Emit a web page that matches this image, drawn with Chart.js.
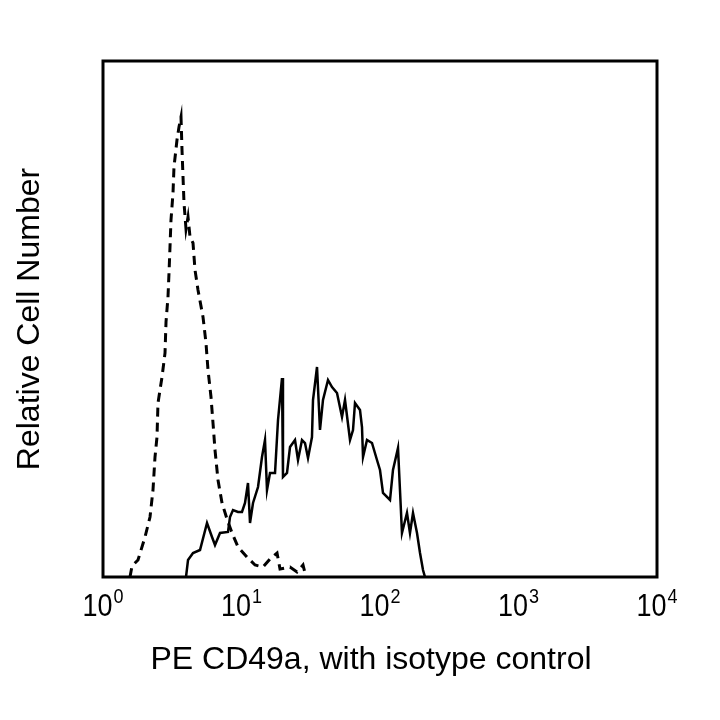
<!DOCTYPE html>
<html>
<head>
  <meta charset="UTF-8">
  <title>PE CD49a histogram</title>
  <script src="https://cdn.jsdelivr.net/npm/chart.js"></script>
  <style>
    body { margin: 0; background: #fff; }
    canvas { display: block; }
  </style>
</head>
<body>
  <canvas id="histChart" width="720" height="720"></canvas>
  <script>
    // isotype control (dashed) - fluorescence intensity / relative count
    const isoX = [1.566, 1.620, 1.789, 2.011, 2.185, 2.296, 2.374, 2.454, 2.495, 2.667,
      2.804, 2.851, 2.946, 2.996, 3.046, 3.097, 3.202, 3.255, 3.421, 3.537,
      3.658, 3.719, 3.845, 3.975, 4.110, 4.249, 4.465, 4.617, 4.852, 5.273,
      5.542, 5.730, 6.023, 6.226, 6.437, 6.766, 7.233, 7.860, 8.542, 9.435,
      10.96, 12.52, 14.30, 16.06, 18.05, 18.97, 22.40, 25.16, 27.80, 29.22];
    const isoY = [0, 11, 17, 40, 60, 87, 120, 140, 174, 200,
      224, 255, 280, 304, 330, 357, 384, 410, 437, 450,
      460, 427, 374, 348, 360, 340, 334, 307, 287, 260,
      234, 207, 180, 154, 127, 97, 74, 58, 44, 30,
      20, 12, 10, 18, 24, 8, 10, 5, 12, 0];

    // PE CD49a stained (solid)
    const cdX = [3.975, 4.110, 4.465, 5.017, 5.636, 6.124, 6.437, 6.996, 7.989, 8.260,
      8.682, 9.435, 10.08, 10.60, 11.14, 11.52, 12.11, 13.16, 14.06, 14.78,
      15.28, 16.06, 17.46, 18.35, 19.61, 19.93, 21.31, 22.40, 24.34, 25.58,
      27.34, 28.74, 30.21, 32.28, 32.83, 35.09, 36.88, 38.76, 42.13, 45.03,
      48.93, 53.17, 55.89, 60.74, 63.84, 65.99, 71.71, 74.13, 75.40, 80.56,
      87.53, 95.12, 100.0, 105.1, 118.1, 124.1, 134.9, 139.4, 144.1, 156.6,
      164.6, 173.1, 185.0, 194.5, 204.4, 211.3];
    const cdY = [0, 17, 24, 27, 54, 40, 32, 44, 45, 60,
      67, 65, 65, 74, 94, 54, 74, 90, 120, 137,
      87, 104, 104, 157, 199, 100, 104, 130, 137, 117,
      137, 134, 119, 140, 177, 210, 147, 177, 197, 190,
      184, 160, 177, 137, 147, 174, 167, 150, 120, 137,
      134, 117, 107, 84, 77, 107, 129, 87, 44, 64,
      44, 64, 44, 24, 7, 0];

    const xTickValues = [1, 10, 100, 1000, 10000];
    const xTickBase = ['10', '10', '10', '10', '10'];
    const xTickExp = ['0', '1', '2', '3', '4'];
    const xTitle = 'PE CD49a, with isotype control';

    const FONT = '"Liberation Sans", Arial, Helvetica, sans-serif';

    const toPoints = (xs, ys) => xs.map((x, i) => ({ x: x, y: ys[i] }));

    // frame, power-of-ten tick labels and x title
    const framePlugin = {
      id: 'frame',
      afterDraw(chart) {
        const ctx = chart.ctx;
        const a = chart.chartArea;
        ctx.save();
        ctx.strokeStyle = '#000';
        ctx.lineWidth = 3;
        ctx.strokeRect(a.left, a.top, a.right - a.left, a.bottom - a.top);

        const xs = chart.scales.x;
        ctx.fillStyle = '#000';
        ctx.textBaseline = 'alphabetic';
        ctx.textAlign = 'left';
        xTickValues.forEach((v, i) => {
          const px = xs.getPixelForValue(v);
          ctx.font = '27px ' + FONT;
          const wBase = ctx.measureText(xTickBase[i]).width;
          ctx.font = '18px ' + FONT;
          const wExp = ctx.measureText(xTickExp[i]).width;
          const start = px - (wBase + wExp + 1) / 2;
          ctx.save();
          ctx.translate(start, 616);
          ctx.scale(1, 1.15);
          ctx.font = '27px ' + FONT;
          ctx.fillText(xTickBase[i], 0, 0);
          ctx.restore();
          ctx.save();
          ctx.translate(start + wBase + 1, 603);
          ctx.scale(1, 1.15);
          ctx.font = '18px ' + FONT;
          ctx.fillText(xTickExp[i], 0, 0);
          ctx.restore();
        });

        ctx.font = '32px ' + FONT;
        ctx.textAlign = 'center';
        ctx.textBaseline = 'middle';
        ctx.fillText(xTitle, xs.getPixelForValue(Math.pow(10, 1.935)), 660);
        ctx.restore();
      }
    };

    new Chart(document.getElementById('histChart'), {
      type: 'scatter',
      data: {
        datasets: [
          {
            label: 'Isotype control',
            data: toPoints(isoX, isoY),
            showLine: true,
            borderColor: '#000',
            borderWidth: 3,
            borderDash: [9, 6],
            pointRadius: 0,
            tension: 0
          },
          {
            label: 'PE CD49a',
            data: toPoints(cdX, cdY),
            showLine: true,
            borderColor: '#000',
            borderWidth: 2.5,
            pointRadius: 0,
            tension: 0
          }
        ]
      },
      options: {
        responsive: false,
        animation: false,
        layout: { padding: { top: 61, right: 63, bottom: 0, left: 0 } },
        plugins: {
          legend: { display: false },
          tooltip: { enabled: false }
        },
        scales: {
          x: {
            type: 'logarithmic',
            min: 1,
            max: 10000,
            grid: { display: false, drawTicks: false },
            border: { display: false },
            ticks: { display: false },
            afterFit(scale) { scale.height = 143; }
          },
          y: {
            min: 0,
            max: 516,
            grid: { display: false, drawTicks: false },
            border: { display: false },
            ticks: { display: false },
            title: {
              display: true,
              text: 'Relative Cell Number',
              color: '#000',
              font: { family: FONT, size: 32 },
              padding: { top: 10.5, bottom: 54.1 }
            }
          }
        }
      },
      plugins: [framePlugin]
    });
  </script>
</body>
</html>
